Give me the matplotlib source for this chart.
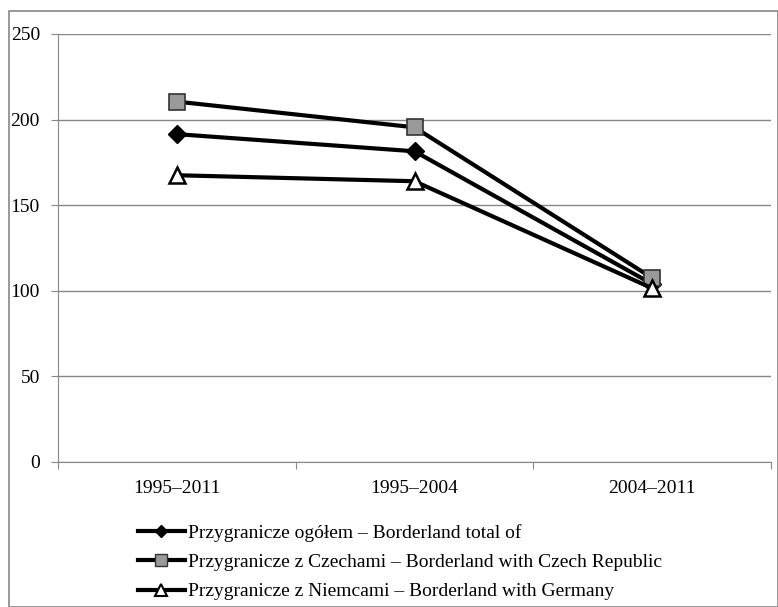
import matplotlib
matplotlib.use("Agg")
import matplotlib.pyplot as plt
from matplotlib.lines import Line2D
from matplotlib.patches import Rectangle

plt.rcParams['font.family'] = ['Liberation Serif', 'DejaVu Serif']

periods = ["1995–2011", "1995–2004", "2004–2011"]
total = [191.5, 181.5, 104]
czech = [210.5, 195.5, 107.5]
germany = [167.5, 164, 101.5]
labels = [
    "Przygranicze ogółem – Borderland total of",
    "Przygranicze z Czechami – Borderland with Czech Republic",
    "Przygranicze z Niemcami – Borderland with Germany",
]

W, H = 778, 607
fig = plt.figure(figsize=(W / 100, H / 100), dpi=100)

# outer chart frame (gray), slightly inset at top/left
fig.add_artist(Rectangle((9 / W, 0.5 / H), (W - 9.5) / W, (H - 11.5) / H,
                         transform=fig.transFigure, fill=False,
                         edgecolor='#888888', lw=1.2))

ax = fig.add_axes([58 / W, 1 - 462 / H, (771 - 58) / W, (462 - 34) / H])

x = [0.5, 1.5, 2.5]
ax.plot(x, total, color='black', lw=3, marker='D', ms=9,
        mfc='black', mec='black', zorder=3)
ax.plot(x, czech, color='black', lw=3, marker='s', ms=11,
        mfc='#9a9a9a', mec='#333333', mew=1.2, zorder=3)
ax.plot(x, germany, color='black', lw=3, marker='^', ms=11,
        mfc='white', mec='black', mew=1.8, zorder=3)

ax.set_xlim(0, 3)
ax.set_ylim(0, 250)
ax.set_yticks(range(0, 251, 50))
ax.set_xticks([0, 1, 2, 3])
ax.set_xticklabels([])
ax.set_xticks(x, minor=True)
ax.set_xticklabels(periods, minor=True)
ax.tick_params(axis='x', which='minor', length=0, pad=13, labelsize=14)
ax.tick_params(axis='x', which='major', length=5, color='#888888', direction='out')
ax.tick_params(axis='y', length=5, color='#888888', direction='out', labelsize=14, pad=8)
ax.yaxis.grid(True, color='#888888', lw=1)
ax.set_axisbelow(True)
for s in ['top', 'right']:
    ax.spines[s].set_visible(False)
for s in ['left', 'bottom']:
    ax.spines[s].set_color('#888888')

handles = [
    Line2D([], [], color='black', lw=3, marker='D', ms=6, mfc='black', mec='black'),
    Line2D([], [], color='black', lw=3, marker='s', ms=8, mfc='#9a9a9a', mec='#333333'),
    Line2D([], [], color='black', lw=3, marker='^', ms=8, mfc='white', mec='black', mew=1.5),
]
fig.legend(handles, labels, loc='upper left', bbox_to_anchor=(138 / W, 1 - 524 / H),
           frameon=False, fontsize=14, handlelength=2.4, handletextpad=0.15,
           labelspacing=0.6, borderaxespad=0, borderpad=0)

fig.savefig("out.png", dpi=100)
